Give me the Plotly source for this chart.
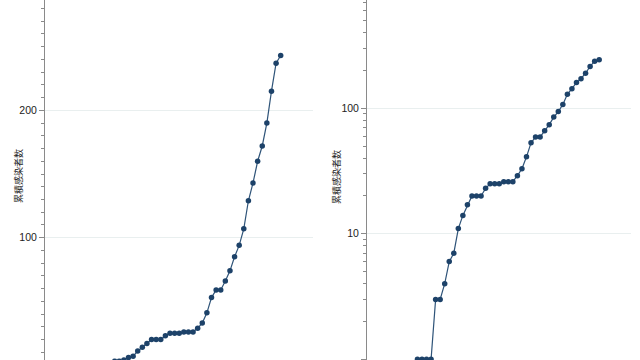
import plotly.graph_objects as go

# Cumulative confirmed cases per day
days = list(range(41))
cases = [1, 1, 1, 1, 3, 3, 4, 6, 7, 11, 14, 17, 20, 20, 20, 23, 25, 25, 25, 26,
         26, 26, 29, 33, 41, 53, 59, 59, 66, 74, 85, 94, 107, 129, 143, 160, 172,
         190, 215, 237, 243]
y_title = "累積感染者数"

line_color = "#2f5479"
marker_color = "#1d4269"
axis_color = "#8a8a8a"
grid_color = "#e9efef"
tick_font = dict(family="Liberation Sans, Arial, sans-serif", size=10.5, color="#222222")
title_font = dict(family="Noto Sans CJK JP, sans-serif", size=9, color="#222222")

fig = go.Figure()
for xa, ya in (("x", "y"), ("x2", "y2")):
    fig.add_trace(go.Scatter(
        x=days, y=cases, xaxis=xa, yaxis=ya, mode="lines+markers",
        line=dict(color=line_color, width=1.2),
        marker=dict(color=marker_color, size=5.5),
        showlegend=False, hoverinfo="x+y",
    ))

xcommon = dict(range=[-11.1, 47.0], showline=False, showgrid=False, zeroline=False,
               showticklabels=False, ticks="")
ycommon = dict(showline=True, linecolor=axis_color, linewidth=1, ticks="outside",
               ticklen=5, tickcolor=axis_color, showgrid=True, gridcolor=grid_color,
               gridwidth=1, zeroline=False, tickfont=tick_font)

fig.update_layout(
    width=640, height=360,
    margin=dict(l=45, r=9, t=0, b=0),
    paper_bgcolor="white", plot_bgcolor="white",
    xaxis=dict(domain=[0, 0.4573], anchor="y", **xcommon),
    xaxis2=dict(domain=[0.5495, 1.0], anchor="y2", **xcommon),
    yaxis=dict(anchor="x", range=[4.0, 286.6], tickvals=[100, 200],
               minor=dict(dtick=10, ticks="outside", ticklen=3, tickcolor=axis_color,
                          showgrid=False),
               **ycommon),
    yaxis2=dict(anchor="x2", type="log", range=[-0.0056, 2.862],
                tickvals=[1, 10, 100], ticktext=["1", "10", "100"],
                minor=dict(dtick="D1", ticks="outside", ticklen=3, tickcolor=axis_color,
                           showgrid=False),
                **ycommon),
    annotations=[
        dict(text=y_title, xref="paper", yref="paper", x=xp, y=0.51,
             xanchor="center", yanchor="middle", textangle=-90,
             showarrow=False, font=title_font)
        for xp in (-0.0452, 0.4974)
    ],
)

fig.write_html("out.html")
